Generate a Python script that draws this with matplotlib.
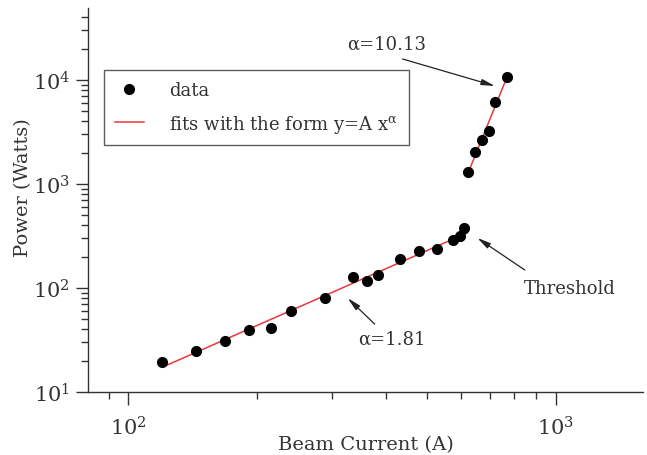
import numpy as np
import matplotlib.pyplot as plt

# beam current (A) and radiated power (W), below and above threshold
current_low = [120, 144, 168, 192, 216, 240, 288, 336, 361, 384, 432, 479, 526, 574, 596, 610]
power_low = [19.6, 24.6, 30.7, 39.7, 41.1, 60.4, 80.1, 129, 116, 134, 189, 225, 236, 288, 313, 378]
current_high = [623, 647, 671, 696, 721, 769]
power_high = [1296, 2018, 2661, 3233, 6143, 10620]

alpha_low = 1.81
alpha_high = 10.13
fit_range_low = [120.8, 620]
fit_range_high = [628, 768]


def power_law(x, y, alpha, xr):
    # fixed exponent, amplitude from least squares in log space
    logA = np.mean(np.log10(y) - alpha * np.log10(x))
    xs = np.array(xr)
    return xs, 10 ** logA * xs ** alpha


plt.rcParams["font.family"] = "DejaVu Serif"
plt.rcParams["mathtext.fontset"] = "dejavuserif"

fig = plt.figure(figsize=(6.47, 4.56), dpi=100)
ax = fig.add_axes([0.136, 0.138, 0.858, 0.842])

xl, yl = power_law(current_low, power_low, alpha_low, fit_range_low)
xh, yh = power_law(current_high, power_high, alpha_high, fit_range_high)

ax.plot(current_low + current_high, power_low + power_high, "o", color="black",
        ms=7, label="data", zorder=3)
ax.plot(xl, yl, color="#e8383d", lw=1.1, label=r"fits with the form y=A x$^{\mathrm{α}}$")
ax.plot(xh, yh, color="#e8383d", lw=1.1)

ax.set_xscale("log")
ax.set_yscale("log")
ax.set_xlim(80.5, 1600)
ax.set_ylim(10, 4.9e4)

for side in ["top", "right"]:
    ax.spines[side].set_visible(False)
for side in ["left", "bottom"]:
    ax.spines[side].set_linewidth(1.0)
    ax.spines[side].set_color("#333333")

ax.tick_params(which="major", length=9, width=1, labelsize=15, colors="#333333", pad=4)
ax.tick_params(which="minor", length=5, width=1, colors="#333333")
ax.tick_params(axis="x", which="major", pad=8)

ax.set_xlabel("Beam Current (A)", fontsize=14, color="#333333")
ax.set_ylabel("Power (Watts)", fontsize=14, color="#333333")
ax.xaxis.set_label_coords(0.5, -0.135)
ax.xaxis.label.set_va("center")
ax.yaxis.set_label_coords(-0.117, 0.536)
ax.yaxis.label.set_va("center")

arrow = dict(arrowstyle="-|>,head_length=0.8,head_width=0.18", color="#222222", lw=0.9,
             shrinkA=0, shrinkB=0)
txt = dict(fontsize=13, color="#333333", ha="center", va="center")

ax.text(402, 22200, "α=10.13", **txt)
ax.annotate("", xy=(720, 8750), xytext=(438, 15900), arrowprops=arrow)

ax.text(1078, 100, "Threshold", **txt)
ax.annotate("", xy=(655, 303), xytext=(846, 149), arrowprops=arrow)

ax.text(413, 33, "α=1.81", **txt)
ax.annotate("", xy=(326, 80), xytext=(377, 45), arrowprops=arrow)

leg = ax.legend(loc="upper left", bbox_to_anchor=(0.029, 0.8385), borderaxespad=0,
                fontsize=13, frameon=True, fancybox=False, edgecolor="#333333",
                handlelength=1.6, handletextpad=1.4, borderpad=0.6, labelspacing=0.75)
leg.get_frame().set_linewidth(1.0)
for t in leg.get_texts():
    t.set_color("#333333")

fig.savefig("out.png", dpi=100, facecolor="white")
